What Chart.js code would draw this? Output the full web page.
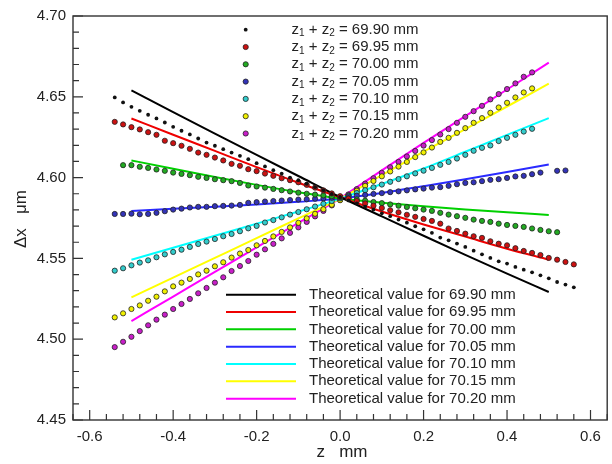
<!DOCTYPE html>
<html><head><meta charset="utf-8">
<script src="https://cdn.jsdelivr.net/npm/chart.js@4"></script>
<style>html,body{margin:0;padding:0;background:#fff}</style>
</head><body>
<canvas id="c" width="612" height="464"></canvas>
<script>
// measured positions along z (mm)
const zPts=[-0.54,-0.52,-0.50,-0.48,-0.46,-0.44,-0.42,-0.40,-0.38,-0.36,-0.34,-0.32,-0.30,-0.28,-0.26,-0.24,-0.22,-0.20,-0.18,-0.16,-0.14,-0.12,-0.10,-0.08,-0.06,-0.04,-0.02,0.00,
  0.02,0.04,0.06,0.08,0.10,0.12,0.14,0.16,0.18,0.20,0.22,0.24,0.26,0.28,0.30,0.32,0.34,0.36,0.38,0.40,0.42,0.44,0.46,0.48,0.50,0.52,0.54,0.56];
const sumLabels=['69.90','69.95','70.00','70.05','70.10','70.15','70.20'];
const m6990=[4.6496,4.6465,4.6438,4.6413,4.6389,4.6366,4.6341,4.6314,4.6290,4.6267,4.6242,4.6217,4.6197,4.6176,4.6155,4.6135,4.6114,4.6089,4.6069,4.6046,4.6025,4.6000,4.5984,4.5962,4.5941,4.5922,4.5899,4.5880,
  4.5859,4.5841,4.5820,4.5802,4.5779,4.5761,4.5740,4.5721,4.5699,4.5680,4.5658,4.5629,4.5612,4.5592,4.5571,4.5548,4.5525,4.5503,4.5482,4.5468,4.5447,4.5430,4.5414,4.5395,4.5377,4.5354,4.5338,4.5321];
const m6995=[4.6345,4.6329,4.6312,4.6298,4.6281,4.6265,4.6228,4.6213,4.6197,4.6178,4.6155,4.6141,4.6124,4.6106,4.6085,4.6073,4.6052,4.6040,4.6025,4.6011,4.5996,4.5984,4.5971,4.5955,4.5938,4.5921,4.5902,4.5885,
  4.5870,4.5855,4.5840,4.5826,4.5812,4.5798,4.5785,4.5770,4.5757,4.5744,4.5732,4.5715,4.5685,4.5670,4.5653,4.5637,4.5627,4.5606,4.5591,4.5581,4.5563,4.5546,4.5534,4.5521,4.5503,4.5492,4.5478,4.5463];
const m7000=[null,4.6077,4.6077,4.6067,4.6060,4.6050,4.6042,4.6031,4.6023,4.6015,4.6005,4.5998,4.5990,4.5984,4.5978,4.5967,4.5951,4.5945,4.5938,4.5930,4.5922,4.5914,4.5907,4.5900,4.5895,4.5890,4.5885,4.5880,
  4.5872,4.5865,4.5857,4.5849,4.5842,4.5834,4.5826,4.5818,4.5810,4.5802,4.5794,4.5782,4.5771,4.5761,4.5751,4.5740,4.5732,4.5726,4.5715,4.5707,4.5701,4.5695,4.5685,4.5676,4.5668,4.5662,null,null];
const m7005=[4.5775,4.5775,4.5777,4.5773,4.5775,4.5782,4.5792,4.5802,4.5808,4.5815,4.5819,4.5819,4.5823,4.5825,4.5827,4.5831,4.5844,4.5848,4.5852,4.5855,4.5858,4.5861,4.5864,4.5866,4.5869,4.5872,4.5875,4.5878,
  4.5883,4.5888,4.5893,4.5899,4.5904,4.5910,4.5915,4.5921,4.5927,4.5932,4.5938,4.5941,4.5949,4.5959,4.5967,4.5971,4.5978,4.5986,4.5990,4.5998,4.6007,4.6011,4.6021,4.6031,null,4.6042,4.6044,null];
const m7010=[4.5424,4.5439,4.5457,4.5474,4.5488,4.5507,4.5525,4.5540,4.5554,4.5571,4.5589,4.5604,4.5620,4.5637,4.5651,4.5668,4.5686,4.5701,4.5722,4.5737,4.5754,4.5771,4.5787,4.5804,4.5821,4.5838,4.5855,4.5871,
  4.5888,4.5905,4.5922,4.5940,4.5957,4.5974,4.5991,4.6008,4.6026,4.6043,4.6060,4.6079,4.6097,4.6118,4.6141,4.6166,4.6184,4.6199,4.6226,4.6246,4.6265,4.6285,4.6302,null,null,null,null,null];
const m7015=[4.5135,4.5160,4.5187,4.5209,4.5238,4.5263,4.5296,4.5327,4.5350,4.5373,4.5401,4.5424,4.5451,4.5476,4.5505,4.5530,4.5552,4.5581,4.5608,4.5636,4.5664,4.5692,4.5720,4.5748,4.5776,4.5804,4.5832,4.5860,
  4.5890,4.5919,4.5949,4.5979,4.6008,4.6038,4.6068,4.6097,4.6127,4.6156,4.6186,4.6221,4.6246,4.6277,4.6306,4.6339,4.6368,4.6401,4.6434,4.6463,4.6496,4.6527,4.6552,null,null,null,null,null];
const m7020=[4.4951,4.4984,4.5015,4.5050,4.5086,4.5121,4.5152,4.5187,4.5218,4.5249,4.5284,4.5317,4.5350,4.5383,4.5422,4.5453,4.5484,4.5523,4.5556,4.5590,4.5624,4.5658,4.5692,4.5726,4.5760,4.5794,4.5828,4.5862,
  4.5896,4.5929,4.5963,4.5996,4.6030,4.6064,4.6097,4.6131,4.6165,4.6198,4.6232,4.6267,4.6300,4.6339,4.6376,4.6411,4.6444,4.6484,4.6517,4.6548,4.6583,4.6624,4.6651,null,null,null,null,null];
// theoretical curves
const zLine=[-0.5,-0.4,-0.3,-0.2,-0.1,0,0.1,0.2,0.3,0.4,0.5];
const t6990=[4.6540,4.6405,4.6272,4.6140,4.6010,4.5880,4.5760,4.5640,4.5522,4.5406,4.5292];
const t6995=[4.6366,4.6265,4.6165,4.6065,4.5968,4.5878,4.5790,4.5710,4.5635,4.5560,4.5492];
const t7000=[4.6106,4.6055,4.6004,4.5955,4.5910,4.5870,4.5845,4.5823,4.5803,4.5785,4.5769];
const t7005=[4.5794,4.5807,4.5820,4.5833,4.5850,4.5870,4.5905,4.5947,4.5990,4.6035,4.6081];
const t7010=[4.5492,4.5566,4.5640,4.5715,4.5790,4.5870,4.5960,4.6056,4.6160,4.6264,4.6368];
const t7015=[4.5259,4.5381,4.5503,4.5625,4.5748,4.5870,4.6015,4.6160,4.6300,4.6440,4.6581];
const t7020=[4.5112,4.5264,4.5416,4.5568,4.5720,4.5872,4.6045,4.6215,4.6380,4.6545,4.6711];
const xTicks=[-0.6,-0.4,-0.2,0,0.2,0.4,0.6];
const yTicks=[4.45,4.50,4.55,4.60,4.65,4.70];

const FONT='"Liberation Sans", Arial, Helvetica, sans-serif';
const dotFill=['#111111','#cc1111','#22aa22','#3333b8','#33cccc','#f0f000','#c81ec8'];
const lineCol=['#000000','#ee0000','#00d000','#2a2aff','#00ffff','#ffff00','#ff00ff'];
const measured=[m6990,m6995,m7000,m7005,m7010,m7015,m7020];
const theory=[t6990,t6995,t7000,t7005,t7010,t7015,t7020];

const datasets=[];
measured.forEach((arr,i)=>{
  datasets.push({label:'z1 + z2 = '+sumLabels[i]+' mm',order:0,showLine:false,
    data:zPts.map((z,k)=>({x:z,y:arr[k]})).filter(p=>p.y!==null),
    pointRadius:i===0?1.9:2.6,pointBorderWidth:i===0?0:0.8,
    pointBackgroundColor:dotFill[i],pointBorderColor:'#222'});
});
theory.forEach((arr,i)=>{
  datasets.push({label:'Theoretical value for '+sumLabels[i]+' mm',order:1,showLine:true,
    data:zLine.map((z,k)=>({x:z,y:arr[k]})),
    borderColor:lineCol[i],borderWidth:2,pointRadius:0,cubicInterpolationMode:'monotone'});
});

function subLabel(ctx,x,y,v){
  const parts=[['z',0],['1',1],[' + z',0],['2',1],[' = '+v+' mm',0]];
  for(const [t,s] of parts){
    ctx.font=(s?'10px ':'15px ')+FONT;
    ctx.fillText(t,x,y+(s?4:0));
    x+=ctx.measureText(t).width;
  }
}

const decor={
  id:'decor',
  afterDatasetsDraw(chart){
    const {ctx,chartArea:a,scales:{x,y}}=chart;
    ctx.save();
    ctx.strokeStyle='#333';ctx.lineWidth=1.4;
    ctx.strokeRect(a.left,a.top,a.right-a.left,a.bottom-a.top);
    ctx.lineWidth=1.2;ctx.beginPath();
    for(let i=-16;i<=16;i++){
      const px=x.getPixelForValue(i*0.04),len=i%5===0?10:6;
      ctx.moveTo(px,a.bottom);ctx.lineTo(px,a.bottom-len);
    }
    for(let i=445;i<=470;i++){
      const py=y.getPixelForValue(i/100),len=i%5===0?10:6;
      ctx.moveTo(a.left,py);ctx.lineTo(a.left+len,py);
    }
    ctx.stroke();
    // measured legend
    ctx.fillStyle='#222';ctx.textBaseline='middle';ctx.textAlign='left';
    sumLabels.forEach((v,i)=>{
      const ly=29.7+i*17.3;
      ctx.beginPath();ctx.arc(245.7,ly,i===0?1.9:2.6,0,Math.PI*2);
      ctx.fillStyle=dotFill[i];ctx.fill();
      if(i>0){ctx.strokeStyle='#222';ctx.lineWidth=0.8;ctx.stroke();}
      ctx.fillStyle='#222';
      subLabel(ctx,291.5,ly,v);
    });
    // theory legend
    sumLabels.forEach((v,i)=>{
      const ly=294.7+i*17.33;
      ctx.strokeStyle=lineCol[i];ctx.lineWidth=2;
      ctx.beginPath();ctx.moveTo(226,ly);ctx.lineTo(296,ly);ctx.stroke();
      ctx.fillStyle='#222';ctx.font='15px '+FONT;
      ctx.fillText('Theoretical value for '+v+' mm',309,ly);
    });
    // axis titles
    ctx.font='17px '+FONT;ctx.textAlign='center';
    ctx.fillText('z   mm',342,452);
    ctx.translate(21,219);ctx.rotate(-Math.PI/2);
    ctx.fillText('\u0394x   \u03bcm',0,0);
    ctx.restore();
  }
};

new Chart(document.getElementById('c'),{
  type:'scatter',
  data:{datasets},
  options:{
    responsive:false,devicePixelRatio:1,animation:false,
    layout:{padding:{top:16,right:1,left:0,bottom:0}},
    plugins:{legend:{display:false},tooltip:{enabled:false}},
    scales:{
      x:{type:'linear',min:-0.64,max:0.64,
        afterBuildTicks:s=>{s.ticks=xTicks.map(v=>({value:v}));},
        afterFit:s=>{s.height=44;},
        grid:{display:false,drawTicks:false},border:{display:false},
        ticks:{padding:8,color:'#222',font:{family:FONT,size:15},callback:v=>v.toFixed(1)}},
      y:{type:'linear',min:4.45,max:4.70,
        afterBuildTicks:s=>{s.ticks=yTicks.map(v=>({value:v}));},
        afterFit:s=>{s.width=73;},
        grid:{display:false,drawTicks:false},border:{display:false},
        ticks:{padding:7,color:'#222',font:{family:FONT,size:15},callback:v=>v.toFixed(2)}}
    }
  },
  plugins:[decor]
});
</script>
</body></html>
